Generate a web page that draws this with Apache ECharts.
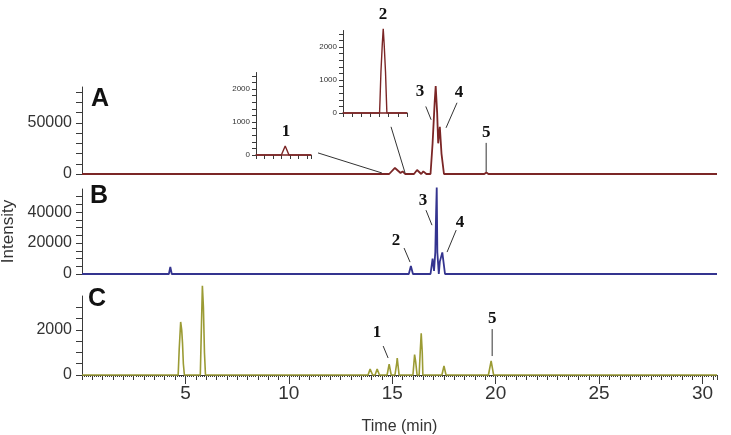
<!DOCTYPE html>
<html>
<head>
<meta charset="utf-8">
<script src="https://cdn.jsdelivr.net/npm/echarts@6/dist/echarts.min.js"></script>
<style>
  html, body { margin: 0; padding: 0; background: #fff; }
  #chart { width: 731px; height: 435px; }
</style>
</head>
<body>
<div id="chart"></div>
<script>
// [time (min), intensity]
const traceA = [
  [0, 0], [14.85, 0], [15.13, 5900], [15.4, 1000], [15.5, 2600], [15.62, 0],
  [16.05, 0], [16.2, 3900], [16.4, 0], [16.5, 2600], [16.65, 0],
  [16.85, 0], [16.95, 30000], [17.05, 70000], [17.1, 86000], [17.17, 60000],
  [17.22, 30000], [17.3, 46000], [17.38, 20000], [17.5, 0],
  [19.45, 0], [19.55, 1500], [19.65, 0], [27.55, 0], [27.6, 1200], [27.65, 0], [30.7, 0]
];
const traceB = [
  [0, 0], [4.2, 0], [4.27, 4500], [4.34, 0], [15.8, 0], [15.9, 5200], [16.0, 0],
  [16.35, 0], [16.4, 1200], [16.45, 0], [16.85, 0], [16.95, 10000], [17.02, 2000],
  [17.08, 14000], [17.12, 40000], [17.15, 56000], [17.18, 14000], [17.25, 0],
  [17.3, 8000], [17.42, 14000], [17.55, 0], [21.75, 0], [21.8, 700], [21.85, 0],
  [25.25, 0], [25.3, 700], [25.35, 0], [30.7, 0]
];
const traceC = [
  [0, 0], [4.65, 0], [4.7, 1150], [4.77, 2350], [4.82, 2000], [4.86, 1400], [4.9, 500], [4.95, 0],
  [5.72, 0], [5.77, 2000], [5.82, 3950], [5.87, 3000], [5.92, 1000], [5.97, 0],
  [13.83, 0], [13.93, 265], [14.05, 0], [14.17, 0], [14.27, 265], [14.38, 0],
  [14.75, 0], [14.85, 485], [14.95, 0], [15.13, 0], [15.22, 550], [15.24, 750], [15.33, 0],
  [16.0, 0], [16.08, 900], [16.13, 600], [16.2, 0], [16.3, 0], [16.35, 1000], [16.4, 1850],
  [16.45, 1000], [16.48, 0], [17.4, 0], [17.5, 400], [17.6, 0],
  [19.65, 0], [19.78, 630], [19.9, 0], [30.7, 0]
];
const insetPeak1 = [[14.2, 0], [14.8, 0], [14.89, 270], [14.98, 0], [15.5, 0]];
const insetPeak2 = [
  [15.0, 0], [15.8, 0], [15.81, 400], [15.83, 1250], [15.86, 2100], [15.88, 2550],
  [15.9, 2100], [15.93, 1250], [15.95, 400], [15.96, 0], [16.4, 0]
];

const yLabelsA = [0, 50000];
const yLabelsB = [0, 20000, 40000];
const yLabelsC = [0, 2000];
const yLabelsInset = [0, 1000, 2000];

// peak numbers: grid, text, label position, leader line from/to (data coords)
const peakNotes = [
  { grid: 0, text: "3", at: [16.34, 80400], from: [16.62, 66000], to: [16.88, 53000] },
  { grid: 0, text: "4", at: [18.23, 79400], from: [18.13, 69600], to: [17.6, 45100] },
  { grid: 0, text: "5", at: [19.54, 40200], from: [19.54, 30400], to: [19.54, 2000] },
  { grid: 3, text: "1", at: [14.91, 700] },
  { grid: 4, text: "2", at: [15.875, 2970] },
  { grid: 1, text: "2", at: [15.18, 21900], from: [15.57, 16800], to: [15.86, 7700] },
  { grid: 1, text: "3", at: [16.49, 47700], from: [16.63, 41300], to: [16.92, 31600] },
  { grid: 1, text: "4", at: [18.28, 33500], from: [18.09, 28400], to: [17.65, 14200] },
  { grid: 2, text: "1", at: [14.26, 1900], from: [14.56, 1283], to: [14.8, 752] },
  { grid: 2, text: "5", at: [19.83, 2480], from: [19.83, 2035], to: [19.83, 840] }
];
// lines from the insets down to the zoomed region, in grid A coords
const insetLinks = [
  { from: [11.41, 20600], to: [14.5, 1000] },
  { from: [14.94, 46100], to: [15.62, 1000] }
];
const panelNames = [
  { grid: 0, text: "A", at: [0.87, 73500] },
  { grid: 1, text: "B", at: [0.82, 50300] },
  { grid: 2, text: "C", at: [0.73, 3360] }
];

const FONT = "'Liberation Sans', Arial, sans-serif";
const AXIS = "#3a3a3a";

function mainY(gridIndex, max, interval, labels, extra) {
  return Object.assign({
    gridIndex,
    type: "value",
    min: 0,
    max,
    interval,
    axisLine: { show: true, lineStyle: { color: AXIS, width: 1 } },
    axisTick: { show: true, length: 6, lineStyle: { color: AXIS } },
    splitLine: { show: false },
    axisLabel: {
      color: "#333",
      fontSize: 16,
      fontFamily: FONT,
      margin: 10,
      showMaxLabel: false,
      formatter: (v) => (labels.includes(v) ? String(v) : "")
    }
  }, extra || {});
}

function insetY(gridIndex) {
  return {
    gridIndex,
    type: "value",
    min: 0,
    max: 2500,
    interval: 200,
    axisLine: { show: true, lineStyle: { color: AXIS, width: 1 } },
    axisTick: { show: true, length: 4, lineStyle: { color: AXIS } },
    splitLine: { show: false },
    axisLabel: {
      color: "#333",
      fontSize: 8,
      fontFamily: FONT,
      margin: 6,
      showMaxLabel: false,
      formatter: (v) => (yLabelsInset.includes(v) ? String(v) : "")
    }
  };
}

function insetX(gridIndex, min, max) {
  return {
    gridIndex,
    type: "value",
    min,
    max,
    interval: 0.2,
    axisLine: { show: true, lineStyle: { color: "#7b2626", width: 1.5 } },
    axisTick: { show: true, inside: false, length: 4, lineStyle: { color: AXIS } },
    axisLabel: { show: false },
    splitLine: { show: false }
  };
}

function hiddenX(gridIndex) {
  return { gridIndex, type: "value", min: 0, max: 30.7, show: false };
}

function trace(data, xAxisIndex, yAxisIndex, color, width) {
  return {
    type: "line",
    data,
    xAxisIndex,
    yAxisIndex,
    symbol: "none",
    showSymbol: false,
    clip: false,
    lineStyle: { color, width },
    emphasis: { disabled: true },
    z: 3
  };
}

function grid(left, width, top, height) {
  return { left, width, top, height, containLabel: false, outerBoundsMode: "none" };
}

function buildOption() {
  return {
    animation: false,
    backgroundColor: "#fff",
    textStyle: { fontFamily: FONT },
    grid: [
      grid(82, 635, 87, 87),
      grid(82, 635, 189, 85),
      grid(82, 635, 296, 79),
      grid(256, 55, 72.5, 82.5),
      grid(343, 64, 30.5, 82.5)
    ],
    xAxis: [
      hiddenX(0),
      hiddenX(1),
      {
        gridIndex: 2,
        type: "value",
        min: 0,
        max: 30.7,
        interval: 5,
        name: "Time (min)",
        nameLocation: "middle",
        nameGap: 44,
        nameTextStyle: { color: "#333", fontSize: 16, fontFamily: FONT },
        axisLine: { show: true, lineStyle: { color: AXIS, width: 1 } },
        axisTick: { show: true, length: 9, lineStyle: { color: AXIS } },
        axisLabel: {
          color: "#333",
          fontSize: 19,
          fontFamily: FONT,
          margin: 9,
          showMinLabel: false,
          showMaxLabel: false
        },
        splitLine: { show: false }
      },
      {
        gridIndex: 2,
        type: "value",
        position: "bottom",
        min: 0,
        max: 30.7,
        interval: 0.5,
        axisLine: { show: false },
        axisTick: { show: true, length: 5, lineStyle: { color: AXIS } },
        minorTick: { show: true, splitNumber: 5, length: 2, lineStyle: { color: AXIS } },
        axisLabel: { show: false },
        splitLine: { show: false }
      },
      insetX(3, 14.2, 15.5),
      insetX(4, 15.0, 16.4)
    ],
    yAxis: [
      mainY(0, 85000, 10000, yLabelsA),
      mainY(1, 55000, 5000, yLabelsB, {
        name: "Intensity",
        nameLocation: "middle",
        nameGap: 64,
        nameTextStyle: { color: "#333", fontSize: 17, fontFamily: FONT }
      }),
      mainY(2, 3500, 500, yLabelsC),
      insetY(3),
      insetY(4)
    ],
    series: [
      trace(traceA, 0, 0, "#7b2626", 1.8),
      trace(traceB, 1, 1, "#34348f", 1.8),
      trace(traceC, 2, 2, "#9b9b34", 1.6),
      trace(insetPeak1, 4, 3, "#7b2626", 1.4),
      trace(insetPeak2, 5, 4, "#7b2626", 1.4)
    ]
  };
}

const chart = echarts.init(document.getElementById("chart"), null, { renderer: "canvas" });
chart.setOption(buildOption());

// annotations placed through each grid's own scales
function px(grid, point) {
  return chart.convertToPixel({ gridIndex: grid }, point);
}

function textEl(p, text, font) {
  return {
    type: "text",
    x: p[0],
    y: p[1],
    z: 10,
    style: {
      text,
      font,
      fill: "#111",
      textAlign: "center",
      textVerticalAlign: "middle",
      align: "center",
      verticalAlign: "middle"
    }
  };
}

function lineEl(a, b) {
  return {
    type: "line",
    z: 10,
    shape: { x1: a[0], y1: a[1], x2: b[0], y2: b[1] },
    style: { stroke: "#333", lineWidth: 1 }
  };
}

const graphics = [];
peakNotes.forEach((n) => {
  graphics.push(textEl(px(n.grid, n.at), n.text, "bold 17px 'Liberation Serif', 'Times New Roman', serif"));
  if (n.from) graphics.push(lineEl(px(n.grid, n.from), px(n.grid, n.to)));
});
insetLinks.forEach((l) => graphics.push(lineEl(px(0, l.from), px(0, l.to))));
panelNames.forEach((n) => {
  graphics.push(textEl(px(n.grid, n.at), n.text, "bold 25px " + FONT));
});

chart.setOption({ graphic: graphics });
</script>
</body>
</html>
